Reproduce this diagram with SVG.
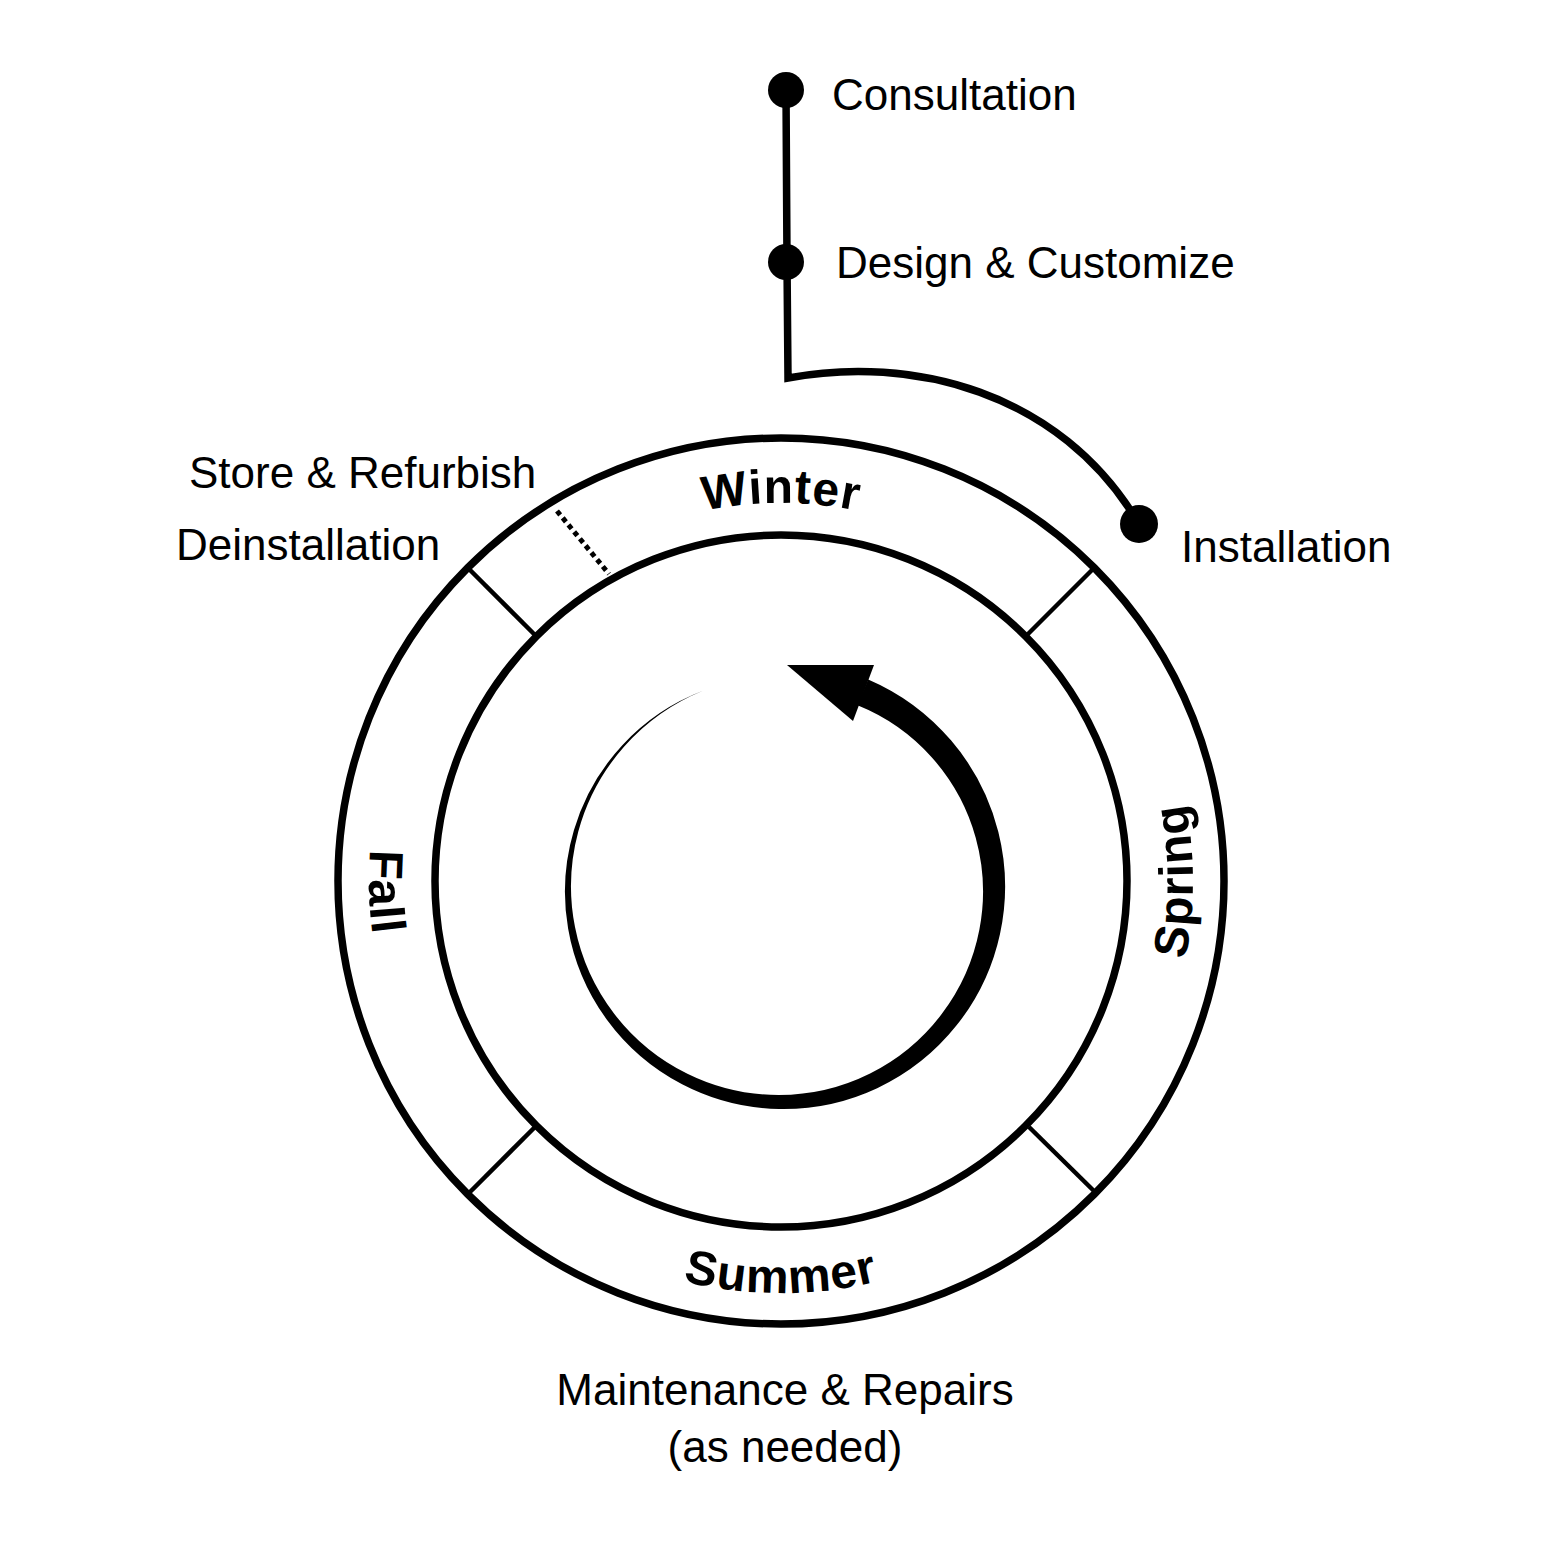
<svg xmlns="http://www.w3.org/2000/svg" width="1563" height="1563" viewBox="0 0 1563 1563">
<style>
.lbl{font-family:"Liberation Sans",Arial,sans-serif;font-size:44px;fill:#000}
.season{font-family:"Liberation Sans",Arial,sans-serif;font-size:48px;font-weight:bold;fill:#000;letter-spacing:1px}
.ring{fill:none;stroke:#000;stroke-width:7.5}
.div{stroke:#000;stroke-width:4.5}
.dot{fill:#000}
</style>
<defs>
<path id="pWinter" d="M 403 881 A 378 378 0 0 1 1159 881"/>
<path id="pSummer" d="M 369 881 A 412 412 0 0 0 1193 881"/>
<path id="pFall" d="M 781 469 A 412 412 0 0 0 781 1293"/>
<path id="pSpring" d="M 781 1293 A 412 412 0 0 0 781 469"/>
</defs>
<rect width="1563" height="1563" fill="#fff"/>

<g id="connectors">
<path d="M 786 90 L 787 262 L 788 378 C 910 355 1060 390 1139 524" fill="none" stroke="#000" stroke-width="7.5" stroke-linejoin="miter"/>
<line x1="557" y1="511" x2="609" y2="574" stroke="#000" stroke-width="5" stroke-dasharray="5 4"/>
</g>

<g id="cycle">
<circle class="ring" cx="781" cy="881" r="443"/>
<circle class="ring" cx="781" cy="881" r="346"/>
<line class="div" x1="1027" y1="635" x2="1094" y2="568"/>
<line class="div" x1="535" y1="635" x2="468" y2="568"/>
<line class="div" x1="535" y1="1127" x2="468" y2="1194"/>
<line class="div" x1="1029" y1="1127" x2="1096" y2="1193"/>
</g>

<g id="arrow">
<path fill="#000" d="M 702.9 690.8 A 213.6 213.6 0 0 0 622.3 745.2 A 214.8 214.8 0 0 0 573.9 830.2 A 215.9 215.9 0 0 0 568.1 928.4 A 217.1 217.1 0 0 0 606.7 1019.4 A 218.3 218.3 0 0 0 682.1 1084.2 A 219.4 219.4 0 0 0 778.9 1109 A 220.6 220.6 0 0 0 877.2 1088.2 A 221.8 221.8 0 0 0 956.4 1025.6 A 222.9 222.9 0 0 0 1000.0 933.9 A 224.1 224.1 0 0 0 998.3 831.8 A 225.3 225.3 0 0 0 951.2 740.6 A 226.4 226.4 0 0 0 868.2 679.4 L 857.5 705.3 A 199.6 199.6 0 0 1 931.9 757.5 A 200.8 200.8 0 0 1 975.7 837.7 A 201.9 201.9 0 0 1 979.4 929.6 A 203.1 203.1 0 0 1 941.7 1014.1 A 204.3 204.3 0 0 1 870.1 1073.5 A 205.4 205.4 0 0 1 779.0 1095 A 206.6 206.6 0 0 1 687.4 1073.8 A 207.8 207.8 0 0 1 614.2 1013.8 A 208.9 208.9 0 0 1 575.0 927.1 A 210.1 210.1 0 0 1 578.3 831.5 A 211.3 211.3 0 0 1 624.0 746.8 A 212.4 212.4 0 0 1 702.9 690.8 Z"/>
<polygon fill="#000" points="787,665 874,665 853,721"/>
</g>

<g id="winter"><text class="season"><textPath href="#pWinter" startOffset="50%" text-anchor="middle">Winter</textPath></text></g>
<g id="summer"><text class="season"><textPath href="#pSummer" startOffset="50%" text-anchor="middle">Summer</textPath></text></g>
<g id="fall"><text class="season"><textPath href="#pFall" startOffset="50.9%" text-anchor="middle">Fall</textPath></text></g>
<g id="spring"><text class="season"><textPath href="#pSpring" startOffset="50%" text-anchor="middle">Spring</textPath></text></g>

<g id="consultation">
<circle class="dot" cx="786" cy="90" r="18"/>
<text class="lbl" x="832" y="110">Consultation</text>
</g>
<g id="design">
<circle class="dot" cx="786" cy="262" r="18"/>
<text class="lbl" x="836" y="278">Design &amp; Customize</text>
</g>
<g id="installation">
<circle class="dot" cx="1139" cy="524" r="19"/>
<text class="lbl" x="1181" y="562">Installation</text>
</g>
<g id="store">
<text class="lbl" x="189" y="488">Store &amp; Refurbish</text>
</g>
<g id="deinstallation">
<text class="lbl" x="176" y="560">Deinstallation</text>
</g>
<g id="maintenance">
<text class="lbl" x="785" y="1405" text-anchor="middle">Maintenance &amp; Repairs</text>
<text class="lbl" x="785" y="1462" text-anchor="middle">(as needed)</text>
</g>
</svg>
